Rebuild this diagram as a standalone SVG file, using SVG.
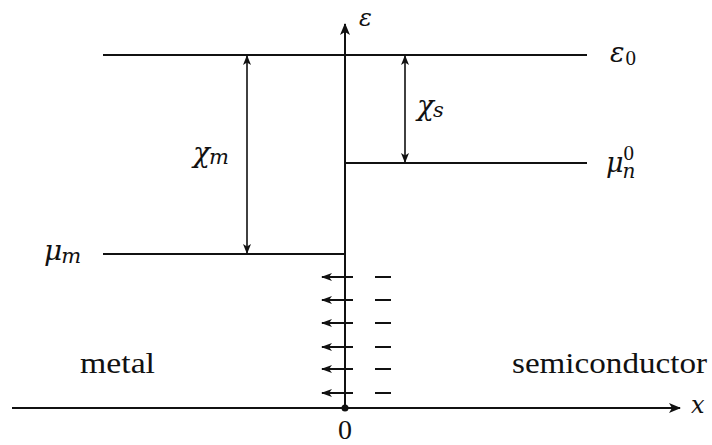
<svg xmlns="http://www.w3.org/2000/svg" width="712" height="445" viewBox="0 0 712 445">
<defs>
<marker id="ah" viewBox="0 0 12 10" refX="11" refY="5" markerWidth="12" markerHeight="10" markerUnits="userSpaceOnUse" orient="auto-start-reverse">
<path d="M0,0 L12,5 L0,10 L3,5 Z" fill="#111"/>
</marker>
<marker id="ahs" viewBox="0 0 10 8" refX="9" refY="4" markerWidth="10" markerHeight="8" markerUnits="userSpaceOnUse" orient="auto-start-reverse">
<path d="M0,0 L10,4 L0,8 L2.5,4 Z" fill="#111"/>
</marker>
<marker id="ahf" viewBox="0 0 11 8" refX="10" refY="4" markerWidth="11" markerHeight="8" markerUnits="userSpaceOnUse" orient="auto">
<path d="M0,0 L11,4 L0,8 L3,4 Z" fill="#111"/>
</marker>
</defs>
<style>
.ln{stroke:#111;stroke-width:2;fill:none}
.th{stroke:#111;stroke-width:1.6;fill:none}
.fa{stroke:#111;stroke-width:2;fill:none}
.math{font-family:"DejaVu Serif",serif;font-style:italic;fill:#111}
.rm{font-family:"Liberation Serif","DejaVu Serif",serif;font-style:normal;fill:#111}
</style>
<rect width="712" height="445" fill="#fff"/>
<g id="connectors">
<line class="ln" x1="12" y1="408" x2="680" y2="408" marker-end="url(#ah)"/>
<line class="ln" x1="345" y1="408" x2="345" y2="24" marker-end="url(#ah)"/>
<line class="ln" x1="103" y1="55" x2="587" y2="55"/>
<line class="ln" x1="345" y1="163" x2="587" y2="163"/>
<line class="ln" x1="103" y1="254" x2="345" y2="254"/>
<line class="th" x1="247" y1="56" x2="247" y2="253" marker-start="url(#ahs)" marker-end="url(#ahs)"/>
<line class="th" x1="405" y1="56" x2="405" y2="162" marker-start="url(#ahs)" marker-end="url(#ahs)"/>
<g id="field">
<line class="fa" x1="353" y1="277" x2="322" y2="277" marker-end="url(#ahf)"/>
<line class="fa" x1="353" y1="300" x2="322" y2="300" marker-end="url(#ahf)"/>
<line class="fa" x1="353" y1="323" x2="322" y2="323" marker-end="url(#ahf)"/>
<line class="fa" x1="353" y1="347" x2="322" y2="347" marker-end="url(#ahf)"/>
<line class="fa" x1="353" y1="369" x2="322" y2="369" marker-end="url(#ahf)"/>
<line class="fa" x1="353" y1="393" x2="322" y2="393" marker-end="url(#ahf)"/>
</g>
<g id="charges">
<line class="ln" x1="375" y1="277" x2="391" y2="277"/>
<line class="ln" x1="375" y1="300" x2="391" y2="300"/>
<line class="ln" x1="375" y1="323" x2="391" y2="323"/>
<line class="ln" x1="375" y1="347" x2="391" y2="347"/>
<line class="ln" x1="375" y1="369" x2="391" y2="369"/>
<line class="ln" x1="375" y1="393" x2="391" y2="393"/>
</g>
<circle cx="345" cy="408" r="3.5" fill="#111"/>
</g>
<g id="labels">
<text class="math" x="359" y="26" font-size="24">ε</text>
<text class="math" x="610" y="62" font-size="27">ε<tspan class="rm" font-size="21" dy="3" dx="1">0</tspan></text>
<text class="math" x="606" y="172" font-size="27">μ<tspan font-size="20" dy="6" dx="-1">n</tspan><tspan class="rm" font-size="21" dx="-12" dy="-18">0</tspan></text>
<text class="math" x="193" y="162" font-size="28">χ<tspan font-size="21" dy="2" dx="-1">m</tspan></text>
<text class="math" x="417" y="115" font-size="28">χ<tspan font-size="21" dy="2" dx="-1">s</tspan></text>
<text class="math" x="44" y="260" font-size="28">μ<tspan font-size="21" dy="3" dx="-1">m</tspan></text>
<text class="math" x="691" y="413" font-size="24">x</text>
<text class="rm" x="345" y="439" font-size="28" text-anchor="middle">0</text>
<text class="rm" x="80" y="373" font-size="29" textLength="75" lengthAdjust="spacingAndGlyphs">metal</text>
<text class="rm" x="512" y="373" font-size="29" textLength="195" lengthAdjust="spacingAndGlyphs">semiconductor</text>
</g>
</svg>
